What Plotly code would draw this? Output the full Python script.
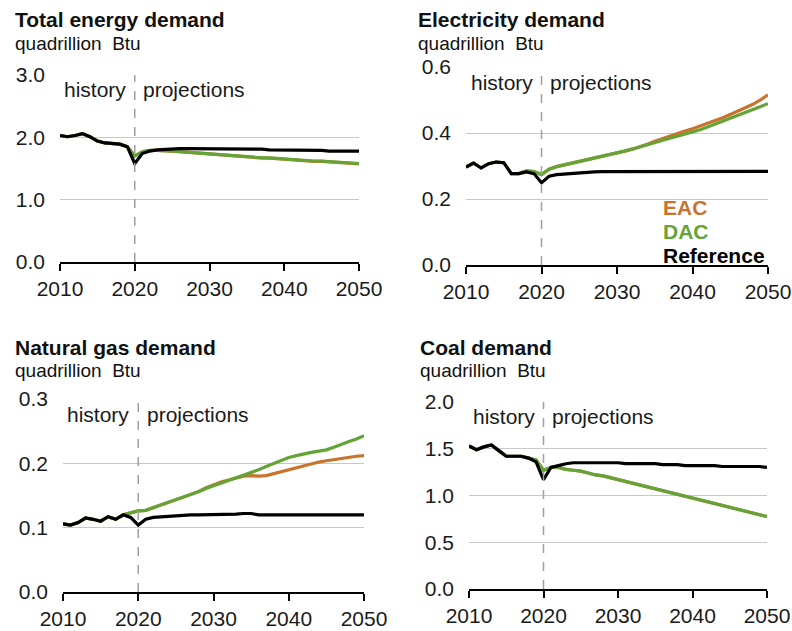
import plotly.graph_objects as go

years = list(range(2010, 2051))

# Total energy demand (quadrillion Btu)
total_ref = [2.03, 2.01, 2.03, 2.06, 2.01, 1.94, 1.91, 1.90, 1.89, 1.85, 1.58, 1.74, 1.78, 1.80, 1.81,
             1.82, 1.82, 1.82, 1.82, 1.82, 1.82, 1.82, 1.82, 1.82, 1.82, 1.82, 1.81, 1.81, 1.80, 1.80,
             1.79, 1.79, 1.79, 1.79, 1.79, 1.79, 1.78, 1.78, 1.78, 1.78, 1.78]
total_dac = [2.03, 2.01, 2.03, 2.06, 2.01, 1.94, 1.91, 1.90, 1.89, 1.85, 1.70, 1.77, 1.79, 1.79, 1.79,
             1.78, 1.77, 1.76, 1.75, 1.74, 1.73, 1.73, 1.72, 1.71, 1.70, 1.69, 1.68, 1.67, 1.67, 1.66,
             1.65, 1.64, 1.64, 1.63, 1.62, 1.62, 1.61, 1.60, 1.60, 1.59, 1.58]
total_eac = [2.03, 2.01, 2.03, 2.06, 2.01, 1.94, 1.91, 1.90, 1.89, 1.85, 1.70, 1.77, 1.79, 1.79, 1.79,
             1.78, 1.77, 1.76, 1.75, 1.74, 1.73, 1.73, 1.72, 1.71, 1.70, 1.69, 1.68, 1.67, 1.665, 1.655,
             1.645, 1.635, 1.635, 1.625, 1.615, 1.615, 1.605, 1.595, 1.595, 1.585, 1.575]

# Electricity demand
elec_ref = [0.297, 0.309, 0.294, 0.307, 0.312, 0.310, 0.277, 0.277, 0.282, 0.277, 0.249, 0.269, 0.274, 0.276,
            0.278, 0.280, 0.281, 0.282, 0.283, 0.283, 0.284, 0.284, 0.284, 0.284, 0.284, 0.284, 0.284, 0.284,
            0.284, 0.284, 0.284, 0.284, 0.284, 0.284, 0.284, 0.284, 0.284, 0.284, 0.284, 0.284, 0.284]
elec_dac = [0.297, 0.309, 0.294, 0.307, 0.312, 0.310, 0.277, 0.277, 0.285, 0.283, 0.274, 0.290, 0.298, 0.303,
            0.308, 0.314, 0.319, 0.324, 0.329, 0.334, 0.340, 0.345, 0.351, 0.358, 0.365, 0.372, 0.378, 0.384,
            0.390, 0.396, 0.402, 0.410, 0.418, 0.427, 0.436, 0.445, 0.454, 0.463, 0.471, 0.480, 0.489]
elec_eac = [0.297, 0.309, 0.294, 0.307, 0.312, 0.310, 0.277, 0.277, 0.285, 0.283, 0.274, 0.290, 0.298, 0.303,
            0.308, 0.314, 0.319, 0.324, 0.329, 0.334, 0.340, 0.345, 0.351, 0.358, 0.366, 0.375, 0.383, 0.392,
            0.399, 0.406, 0.413, 0.421, 0.429, 0.437, 0.446, 0.456, 0.466, 0.476, 0.487, 0.500, 0.516]

# Natural gas demand
gas_ref = [0.106, 0.104, 0.108, 0.115, 0.113, 0.110, 0.117, 0.113, 0.120, 0.116, 0.104, 0.113, 0.116, 0.117,
           0.117, 0.119, 0.119, 0.120, 0.120, 0.120, 0.120, 0.120, 0.120, 0.121, 0.122, 0.122, 0.120, 0.120,
           0.120, 0.120, 0.120, 0.120, 0.120, 0.120, 0.120, 0.120, 0.120, 0.120, 0.120, 0.120, 0.120]
gas_dac = [0.106, 0.104, 0.108, 0.115, 0.113, 0.110, 0.117, 0.113, 0.120, 0.123, 0.126, 0.127, 0.131, 0.136,
           0.139, 0.143, 0.147, 0.151, 0.156, 0.161, 0.165, 0.169, 0.173, 0.177, 0.181, 0.185, 0.190, 0.195,
           0.200, 0.205, 0.209, 0.212, 0.215, 0.217, 0.219, 0.221, 0.225, 0.230, 0.234, 0.238, 0.243]
gas_eac = [0.106, 0.104, 0.108, 0.115, 0.113, 0.110, 0.117, 0.113, 0.120, 0.123, 0.126, 0.127, 0.131, 0.136,
           0.139, 0.143, 0.147, 0.151, 0.156, 0.162, 0.167, 0.171, 0.174, 0.177, 0.180, 0.181, 0.180, 0.181,
           0.184, 0.188, 0.191, 0.194, 0.196, 0.199, 0.202, 0.204, 0.206, 0.208, 0.210, 0.211, 0.212]

# Coal demand
coal_ref = [1.53, 1.49, 1.52, 1.54, 1.48, 1.42, 1.42, 1.42, 1.40, 1.36, 1.17, 1.30, 1.32, 1.34, 1.35,
            1.35, 1.35, 1.35, 1.35, 1.35, 1.35, 1.34, 1.34, 1.34, 1.34, 1.34, 1.33, 1.33, 1.33, 1.32,
            1.32, 1.32, 1.32, 1.32, 1.31, 1.31, 1.31, 1.31, 1.31, 1.31, 1.30]
coal_dac = [1.53, 1.49, 1.52, 1.54, 1.48, 1.42, 1.42, 1.42, 1.40, 1.38, 1.27, 1.30, 1.30, 1.28, 1.27,
            1.26, 1.24, 1.22, 1.21, 1.19, 1.17, 1.15, 1.13, 1.11, 1.09, 1.07, 1.05, 1.03, 1.01, 0.99,
            0.97, 0.95, 0.93, 0.91, 0.89, 0.87, 0.85, 0.83, 0.81, 0.79, 0.775]
coal_eac = list(coal_dac)

panel_titles = ["Total energy demand", "Electricity demand", "Natural gas demand", "Coal demand"]
unit_label = "quadrillion  Btu"
y_ticks = [[0, 1, 2, 3], [0, 0.2, 0.4, 0.6], [0, 0.1, 0.2, 0.3], [0, 0.5, 1.0, 1.5, 2.0]]
y_ticktext = [["0.0", "1.0", "2.0", "3.0"], ["0.0", "0.2", "0.4", "0.6"],
              ["0.0", "0.1", "0.2", "0.3"], ["0.0", "0.5", "1.0", "1.5", "2.0"]]
x_ticks = [2010, 2020, 2030, 2040, 2050]
legend_names = ["EAC", "DAC", "Reference"]

ORANGE = "#c8742c"
GREEN = "#64a436"
BLACK = "#000000"
FONT = "Liberation Sans, Arial, sans-serif"

W, H = 792, 631


def px(xw):
    return xw / W


def py(yw):
    return 1 - yw / H


# plot area window-pixel boxes: (left, right, top, bottom)
boxes = [(60, 359, 75, 262), (466, 768, 67, 265), (63, 364, 399, 592), (469, 767, 402, 589)]
title_pos = [(13, 20, 43), (416, 20, 43), (13, 347, 370), (418, 347, 370)]

series = [(total_eac, total_dac, total_ref), (elec_eac, elec_dac, elec_ref),
          (gas_eac, gas_dac, gas_ref), (coal_eac, coal_dac, coal_ref)]

fig = go.Figure()
layout = dict(width=W, height=H, margin=dict(l=0, r=0, t=0, b=0, autoexpand=False),
              plot_bgcolor="white", paper_bgcolor="white", showlegend=False,
              font=dict(family=FONT, color="#1a1a1a"))
annotations = []
shapes = []

for i in range(4):
    n = "" if i == 0 else str(i + 1)
    xa, ya = "x" + n, "y" + n
    l, r, t, b = boxes[i]
    eac, dac, ref = series[i]
    for vals, col, name in zip((eac, dac, ref), (ORANGE, GREEN, BLACK), legend_names):
        fig.add_trace(go.Scatter(x=years, y=vals, mode="lines", name=name,
                                 line=dict(color=col, width=3.2), xaxis=xa, yaxis=ya))
    layout["xaxis" + n] = dict(domain=[px(l), px(r)], anchor=ya, range=[2010, 2050], automargin=False,
                               tickvals=x_ticks, ticks="outside", ticklen=7, tickwidth=1.5,
                               tickcolor="black", showline=True, linecolor="black", linewidth=1.5,
                               showgrid=False, zeroline=False, tickfont=dict(size=21, color="#1a1a1a"))
    layout["yaxis" + n] = dict(domain=[py(b), py(t)], anchor=xa, automargin=False,
                               range=[y_ticks[i][0], y_ticks[i][-1]],
                               tickvals=y_ticks[i], ticktext=y_ticktext[i], showgrid=True,
                               gridcolor="#c8c8c8", gridwidth=1, zeroline=False, showline=False,
                               ticks="", ticklabelstandoff=14, tickfont=dict(size=21, color="#1a1a1a"))
    shapes.append(dict(type="line", xref=xa, yref=ya + " domain", x0=2020, x1=2020, y0=0, y1=1,
                       line=dict(color="#a0a0a0", width=1.5, dash="dash"), layer="above"))
    tx, ty1, ty2 = title_pos[i]
    annotations.append(dict(text="<b>" + panel_titles[i] + "</b>", xref="paper", yref="paper",
                            x=px(tx), y=py(ty1), xanchor="left", yanchor="middle",
                            showarrow=False, font=dict(size=21, color="#111111")))
    annotations.append(dict(text=unit_label, xref="paper", yref="paper",
                            x=px(tx), y=py(ty2), xanchor="left", yanchor="middle",
                            showarrow=False, font=dict(size=19, color="#111111")))
    annotations.append(dict(text="history", xref=xa, yref=ya + " domain", x=2019.1, y=0.92,
                            xanchor="right", yanchor="middle", showarrow=False,
                            font=dict(size=21, color="#1a1a1a")))
    annotations.append(dict(text="projections", xref=xa, yref=ya + " domain", x=2020.9, y=0.92,
                            xanchor="left", yanchor="middle", showarrow=False,
                            font=dict(size=21, color="#1a1a1a")))

for name, col, yy in zip(legend_names, (ORANGE, GREEN, BLACK), (207, 231, 255)):
    annotations.append(dict(text="<b>" + name + "</b>", xref="paper", yref="paper",
                            x=px(661), y=py(yy), xanchor="left", yanchor="middle",
                            showarrow=False, font=dict(size=21, color=col)))

layout["annotations"] = annotations
layout["shapes"] = shapes
fig.update_layout(**layout)
fig.write_html("out.html", config={"displayModeBar": False},
               post_script="document.body.style.margin='0';document.body.style.overflow='hidden';")
